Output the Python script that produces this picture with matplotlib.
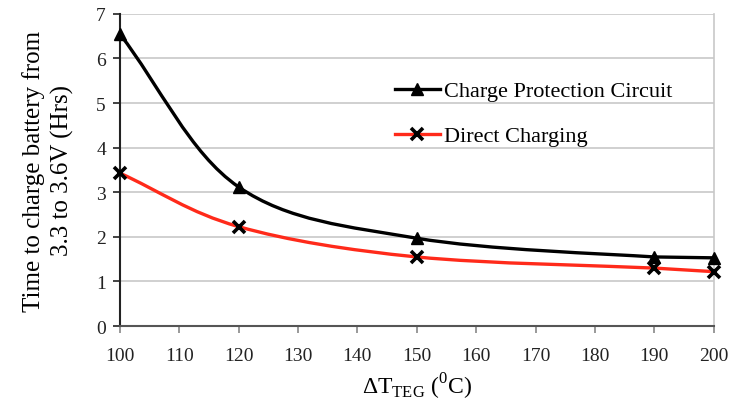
import numpy as np
import matplotlib
matplotlib.use('Agg')
import matplotlib.pyplot as plt
from matplotlib.path import Path
from matplotlib.patches import PathPatch
from matplotlib.lines import Line2D

plt.rcParams['font.family'] = ['Liberation Serif', 'DejaVu Serif']
plt.rcParams['mathtext.fontset'] = 'custom'
plt.rcParams['mathtext.rm'] = 'Liberation Serif'

dT = [100, 120, 150, 190, 200]
protection = [6.55, 3.12, 1.97, 1.55, 1.53]
direct = [3.43, 2.23, 1.55, 1.30, 1.22]


def smooth_path(x, y):
    # excel-like smoothed line: catmull-rom turned into bezier segments
    pts = np.column_stack([x, y]).astype(float)
    verts = [pts[0]]
    codes = [Path.MOVETO]
    n = len(pts)
    for i in range(n - 1):
        p0 = pts[i - 1] if i > 0 else pts[i]
        p1 = pts[i]
        p2 = pts[i + 1]
        p3 = pts[i + 2] if i + 2 < n else pts[i + 1]
        c1 = p1 + (p2 - p0) / 6.0
        c2 = p2 - (p3 - p1) / 6.0
        # end segments head straight for the next point
        if i == 0 or i == n - 2:
            c1 = p1 + (p2 - p1) / 3.0
        verts += [c1, c2, p2]
        codes += [Path.CURVE4] * 3
    return Path(verts, codes)


fig = plt.figure(figsize=(7.35, 4.14), dpi=100)
ax = fig.add_axes([0.163, 0.210, 0.808, 0.754])

ax.add_patch(PathPatch(smooth_path(dT, direct), fill=False, edgecolor='#ff2a1a', lw=2.4, zorder=3))
ax.add_patch(PathPatch(smooth_path(dT, protection), fill=False, edgecolor='black', lw=2.4, zorder=3))
ax.plot(dT, protection, ls='none', marker='^', ms=9, color='black', zorder=4, clip_on=False)
ax.plot(dT, direct, ls='none', marker='x', ms=8, mew=2.6, color='black', zorder=4, clip_on=False)

ax.set_xlim(100, 200)
ax.set_ylim(0, 7)
ax.set_xticks(range(100, 201, 10))
ax.set_yticks(range(0, 8))
ax.yaxis.grid(True, color='#c8c8c8', lw=1.2)
ax.set_axisbelow(True)

ax.spines['top'].set_visible(False)
ax.spines['right'].set_color('#c8c8c8')
ax.spines['right'].set_linewidth(1.2)
ax.spines['left'].set_color('#222222')
ax.spines['left'].set_linewidth(1.5)
ax.spines['bottom'].set_color('#555555')
ax.spines['bottom'].set_linewidth(1.5)
ax.tick_params(axis='both', direction='out', length=5, width=1.2, labelsize=14, colors='#222222')
ax.tick_params(axis='x', pad=10, color='#888888')
ax.tick_params(axis='y', pad=5)

ax.set_ylabel('Time to charge battery from\n3.3 to 3.6V (Hrs)', fontsize=18, labelpad=16,
              linespacing=1.35)
ax.set_xlabel(r'ΔT$_{\mathregular{TEG}}$ ($^{\mathregular{0}}$C)', fontsize=17, labelpad=5)

handles = [
    Line2D([], [], color='black', lw=2.4, marker='^', ms=9),
    Line2D([], [], color='#ff2a1a', lw=2.4, marker='x', ms=8, mew=2.6, mec='black'),
]
ax.legend(handles, ['Charge Protection Circuit', 'Direct Charging'],
          loc='upper left', bbox_to_anchor=(0.43, 0.85), frameon=False,
          fontsize=16, labelspacing=1.1, handlelength=2.0, handletextpad=0.2)

fig.savefig('out.png', dpi=100)
